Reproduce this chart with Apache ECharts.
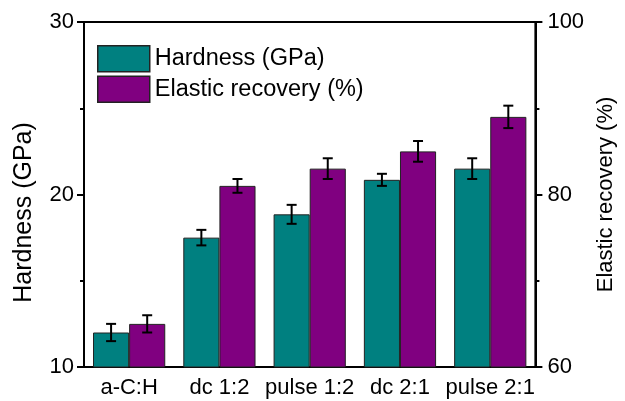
<!DOCTYPE html>
<html>
<head>
<meta charset="utf-8">
<script src="https://cdn.jsdelivr.net/npm/echarts@6/dist/echarts.min.js"></script>
<style>html,body{margin:0;padding:0;background:#fff}#c{width:625px;height:401px}</style>
</head>
<body>
<div id="c"></div>
<script>
var categories = ['a-C:H', 'dc 1:2', 'pulse 1:2', 'dc 2:1', 'pulse 2:1'];
var hardness = [12.0, 17.5, 18.85, 20.85, 21.5];
var hardnessErr = [0.5, 0.45, 0.55, 0.35, 0.6];
var elastic = [65.0, 81.0, 83.0, 85.0, 89.0];
var elasticErr = [1.0, 0.8, 1.2, 1.2, 1.3];
var leftTicks = [10, 20, 30];
var rightTicks = [60, 80, 100];

var FONT = 'Liberation Sans, Arial, sans-serif';
var chart = echarts.init(document.getElementById('c'), null, {renderer: 'canvas'});

function errSeries(name, vals, errs, yIdx, side) {
  return {
    type: 'custom', name: name + ' err', yAxisIndex: yIdx, z: 10, silent: true,
    data: vals.map(function (v, i) { return [i, v - errs[i], v + errs[i]]; }),
    renderItem: function (params, api) {
      var band = api.size([1, 0])[0];
      var off = side * band * 0.2;
      var lo = api.coord([api.value(0), api.value(1)]);
      var hi = api.coord([api.value(0), api.value(2)]);
      var x = lo[0] + off, cw = 5;
      var st = {stroke: '#000', lineWidth: 2};
      return {type: 'group', children: [
        {type: 'line', shape: {x1: x, y1: lo[1], x2: x, y2: hi[1]}, style: st},
        {type: 'line', shape: {x1: x - cw, y1: lo[1], x2: x + cw, y2: lo[1]}, style: st},
        {type: 'line', shape: {x1: x - cw, y1: hi[1], x2: x + cw, y2: hi[1]}, style: st}
      ]};
    }
  };
}

var option = {
  animation: false,
  textStyle: {fontFamily: FONT},
  grid: {left: 84, right: 70, top: 22, bottom: 34, show: true, borderColor: '#000', borderWidth: 2, backgroundColor: 'transparent'},
  legend: {
    orient: 'vertical', left: 97, top: 45, padding: 0, itemWidth: 52, itemHeight: 26, itemGap: 3,
    data: ['Hardness (GPa)', 'Elastic recovery (%)'],
    textStyle: {fontSize: 23.5, color: '#000', fontFamily: FONT},
    itemStyle: {borderColor: '#222', borderWidth: 1.5},
    icon: 'rect', selectedMode: false
  },
  xAxis: [{
    type: 'category', data: categories, position: 'bottom',
    axisLine: {lineStyle: {color: '#000', width: 2}},
    axisTick: {alignWithLabel: true, length: 7, lineStyle: {color: '#000', width: 2}},
    axisLabel: {fontSize: 22, color: '#000', margin: 10, fontFamily: FONT, interval: 0}
  }, {
    type: 'category', data: categories, position: 'bottom',
    axisLine: {show: false},
    axisTick: {alignWithLabel: false, length: 4, lineStyle: {color: '#000', width: 2}},
    axisLabel: {show: false}
  }],
  yAxis: [{
    type: 'value', min: 10, max: 30, interval: 10, position: 'left',
    name: 'Hardness (GPa)', nameLocation: 'middle', nameGap: 47,
    nameTextStyle: {fontSize: 25, color: '#000', fontFamily: FONT, padding: [0, 36, 0, 0]},
    axisLine: {show: true, lineStyle: {color: '#000', width: 2}},
    axisTick: {show: true, length: 7, lineStyle: {color: '#000', width: 2}},
    minorTick: {show: true, splitNumber: 2, length: 4, lineStyle: {color: '#000', width: 2}},
    splitLine: {show: false},
    axisLabel: {fontSize: 22, color: '#000', margin: 10, fontFamily: FONT}
  }, {
    type: 'value', min: 60, max: 100, interval: 20, position: 'right',
    name: 'Elastic recovery (%)', nameLocation: 'middle', nameGap: 50,
    nameTextStyle: {fontSize: 22, color: '#000', fontFamily: FONT},
    axisLine: {show: true, lineStyle: {color: '#000', width: 2}},
    axisTick: {show: true, length: 7, lineStyle: {color: '#000', width: 2}},
    minorTick: {show: true, splitNumber: 2, length: 4, lineStyle: {color: '#000', width: 2}},
    splitLine: {show: false},
    axisLabel: {fontSize: 22, color: '#000', margin: 12, fontFamily: FONT}
  }],
  series: [{
    type: 'bar', name: 'Hardness (GPa)', data: hardness, yAxisIndex: 0,
    barGap: '0%', barCategoryGap: '20%',
    itemStyle: {color: '#008080', borderColor: '#222', borderWidth: 1}
  }, {
    type: 'bar', name: 'Elastic recovery (%)', data: elastic, yAxisIndex: 1,
    barGap: '0%', barCategoryGap: '20%',
    itemStyle: {color: '#800080', borderColor: '#222', borderWidth: 1}
  },
  errSeries('h', hardness, hardnessErr, 0, -1),
  errSeries('e', elastic, elasticErr, 1, 1)]
};
chart.setOption(option);
</script>
</body>
</html>
